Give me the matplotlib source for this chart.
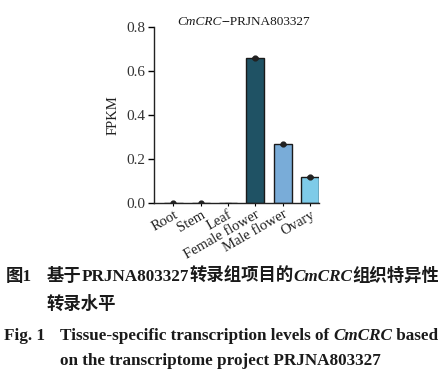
import matplotlib.pyplot as plt

# tissue-specific FPKM values
tissues = ['Root', 'Stem', 'Leaf', 'Female flower', 'Male flower', 'Ovary']
fpkm = [0.001, 0.001, 0.0005, 0.66, 0.268, 0.118]
fpkm_err = [0.0, 0.0, 0.0, 0.003, 0.003, 0.003]
bar_colors = ['#3b6f80', '#3b6f80', '#3b6f80', '#1f5264', '#79acd8', '#7ecbe8']
yticks = [0.0, 0.2, 0.4, 0.6, 0.8]

serif = ['Liberation Serif', 'DejaVu Serif']
cjk = ['Liberation Serif', 'Noto Sans CJK SC']

plt.rcParams['font.family'] = serif

fig = plt.figure(figsize=(4.39, 3.72), dpi=100)
ax = fig.add_axes([0.351, 0.454, 0.376, 0.473])

x = list(range(len(tissues)))
ax.bar(x, fpkm, width=0.66, color=bar_colors, edgecolor='#1a1a1a', linewidth=1.0, zorder=2)
ax.errorbar(x, fpkm, yerr=fpkm_err, fmt='none', ecolor='#1a1a1a', elinewidth=0.8,
            capsize=2, capthick=0.8, zorder=3)
ax.scatter(x[:2], fpkm[:2], s=12, color='#222222', zorder=4)
ax.scatter(x[3:], fpkm[3:], s=12, color='#222222', zorder=4)

ax.set_xlim(-0.71, 5.33)
ax.set_ylim(0, 0.8)
ax.set_yticks(yticks)
ax.set_yticklabels([f'{v:.1f}' for v in yticks], fontsize=11, color='#333333')
ax.set_xticks(x)
ax.set_xticklabels(tissues, rotation=30, ha='right', rotation_mode='anchor',
                   fontsize=10.5, color='#222222')
ax.tick_params(axis='y', length=4, width=1, pad=2)
ax.tick_params(axis='x', length=2.5, width=0.8, pad=1)
ax.set_ylabel('FPKM', fontsize=10.5, labelpad=5, color='#222222')
for s in ['top', 'right']:
    ax.spines[s].set_visible(False)
for s in ['left', 'bottom']:
    ax.spines[s].set_linewidth(1.0)
    ax.spines[s].set_color('#222222')

fig.canvas.draw()
renderer = fig.canvas.get_renderer()


def draw_pieces(pieces, x0, y0, ha='left'):
    # pieces: list of (text, style, weight, family, size)
    arts = []
    xx = x0
    for txt, style, weight, fam, size in pieces:
        t = fig.text(xx, y0, txt, fontsize=size, style=style, weight=weight,
                     family=fam, va='baseline', ha='left', color='#1a1a1a')
        w = t.get_window_extent(renderer).width / fig.bbox.width
        xx += w
        arts.append(t)
    if ha == 'center':
        total = xx - x0
        for t in arts:
            px, py = t.get_position()
            t.set_position((px - total / 2, py))
    return arts


# title above the plot
draw_pieces([('CmCRC', 'italic', 'normal', serif, 9.5),
             ('--PRJNA803327', 'normal', 'normal', serif, 9.5)],
            0.555, 0.932, ha='center')

# Chinese caption
draw_pieces([('图1', 'normal', 'bold', cjk, 12.5)], 0.012, 0.245)
draw_pieces([('基于', 'normal', 'bold', cjk, 12.5),
             ('PRJNA803327', 'normal', 'bold', serif, 12.3),
             ('转录组项目的', 'normal', 'bold', cjk, 12.5),
             ('CmCRC', 'italic', 'bold', serif, 12.3),
             ('组织特异性', 'normal', 'bold', cjk, 12.5)], 0.107, 0.245)
draw_pieces([('转录水平', 'normal', 'bold', cjk, 12.5)], 0.107, 0.169)

# English caption
draw_pieces([('Fig. 1', 'normal', 'bold', serif, 12.3)], 0.008, 0.086)
draw_pieces([('Tissue-specific transcription levels of ', 'normal', 'bold', serif, 12.3),
             ('CmCRC', 'italic', 'bold', serif, 12.3),
             (' based', 'normal', 'bold', serif, 12.3)], 0.137, 0.086)
draw_pieces([('on the transcriptome project PRJNA803327', 'normal', 'bold', serif, 12.3)],
            0.137, 0.019)

fig.savefig('out.png', dpi=100)
